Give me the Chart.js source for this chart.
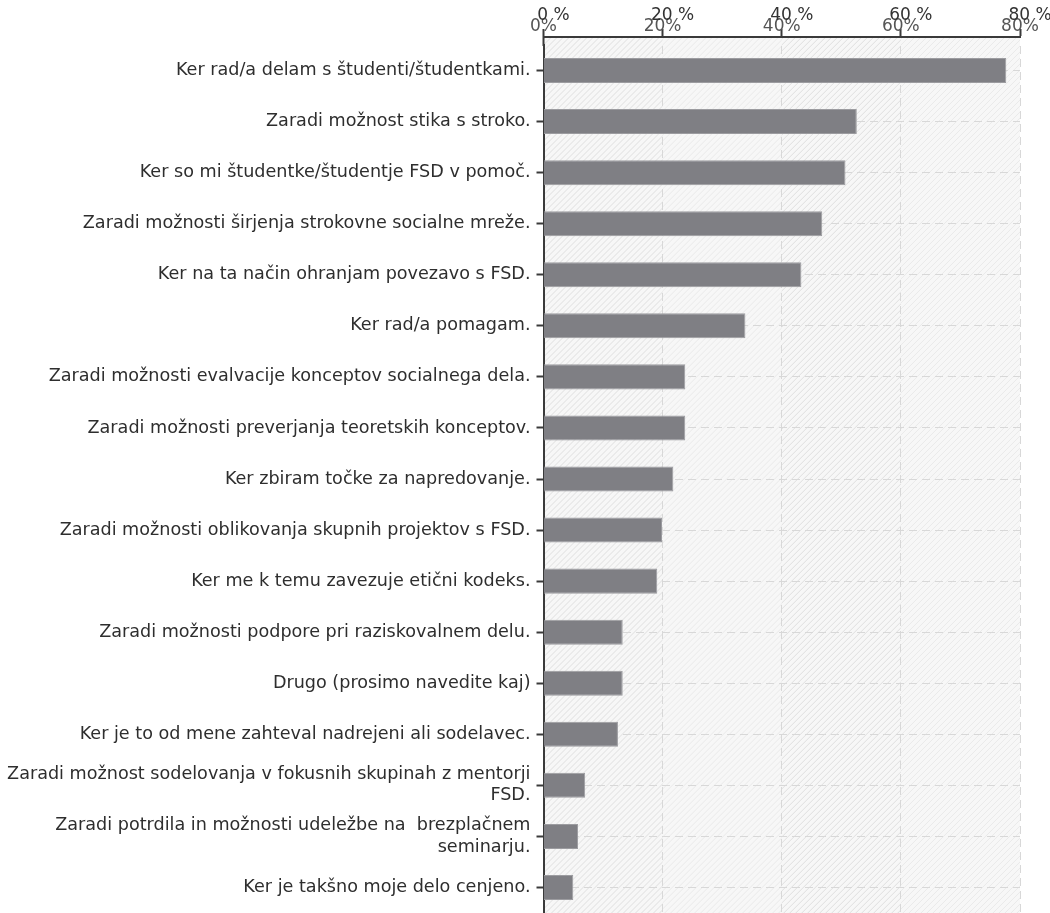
<!DOCTYPE html>
<html>
<head>
<meta charset="utf-8">
<script src="https://cdn.jsdelivr.net/npm/chart.js@4.4.1/dist/chart.umd.min.js"></script>
<style>
  html, body { margin: 0; padding: 0; background: #fff; overflow: hidden; }
  #wrap { position: relative; width: 1050px; height: 913px; }
</style>
</head>
<body>
<div id="wrap"><canvas id="bar-chart"></canvas></div>
<script>
var categories = [
    "Ker rad/a delam s študenti/študentkami.",
    "Zaradi možnost stika s stroko.",
    "Ker so mi študentke/študentje FSD v pomoč.",
    "Zaradi možnosti širjenja strokovne socialne mreže.",
    "Ker na ta način ohranjam povezavo s FSD.",
    "Ker rad/a pomagam.",
    "Zaradi možnosti evalvacije konceptov socialnega dela.",
    "Zaradi možnosti preverjanja teoretskih konceptov.",
    "Ker zbiram točke za napredovanje.",
    "Zaradi možnosti oblikovanja skupnih projektov s FSD.",
    "Ker me k temu zavezuje etični kodeks.",
    "Zaradi možnosti podpore pri raziskovalnem delu.",
    "Drugo (prosimo navedite kaj)",
    "Ker je to od mene zahteval nadrejeni ali sodelavec.",
    ["Zaradi možnost sodelovanja v fokusnih skupinah z mentorji", "FSD."],
    ["Zaradi potrdila in možnosti udeležbe na  brezplačnem", "seminarju."],
    "Ker je takšno moje delo cenjeno."
];
var shares = [77.7, 52.6, 50.7, 46.8, 43.3, 33.9, 23.8, 23.8, 21.8, 19.9, 19.1, 13.3, 13.3, 12.5, 7.0, 5.8, 5.0];
var xTicks = [0, 20, 40, 60, 80];

var FONT = "'DejaVu Sans', Verdana, sans-serif";
var AXIS_TOP = 37;
var PLOT_LEFT = 543.5;

// hatched plot background + the second (offset) set of top labels
var backdrop = {
    id: 'backdrop',
    beforeDraw: function (chart) {
        var ca = chart.chartArea, ctx = chart.ctx, x = chart.scales.x;
        var top = AXIS_TOP;
        ctx.save();
        ctx.fillStyle = '#f7f7f7';
        ctx.fillRect(ca.left, top, ca.right - ca.left, ca.bottom - top);
        for (var i = 0; i < xTicks.length - 1; i++) {
            var l = x.getPixelForValue(xTicks[i]), r = x.getPixelForValue(xTicks[i + 1]);
            ctx.save();
            ctx.beginPath();
            ctx.rect(l, top, r - l, ca.bottom - top);
            ctx.clip();
            ctx.strokeStyle = i % 2 === 0 ? '#dedede' : '#e9e9e9';
            ctx.lineWidth = 1;
            ctx.beginPath();
            for (var d = -1000; d < 1000; d += 6) {
                ctx.moveTo(l + d, ca.bottom);
                ctx.lineTo(l + d + (ca.bottom - top), top);
            }
            ctx.stroke();
            ctx.restore();
        }
        ctx.restore();
    },
    afterDraw: function (chart) {
        var ca = chart.chartArea, ctx = chart.ctx, x = chart.scales.x;
        ctx.save();
        ctx.strokeStyle = '#3a3a3a';
        ctx.lineWidth = 2;
        ctx.beginPath();
        ctx.moveTo(ca.left, AXIS_TOP - 1);
        ctx.lineTo(ca.left, ca.top + 1);
        ctx.stroke();
        ctx.fillStyle = '#333';
        ctx.font = '17px ' + FONT;
        ctx.textAlign = 'center';
        ctx.textBaseline = 'middle';
        xTicks.forEach(function (v) {
            ctx.fillText(v + ' %', x.getPixelForValue(v) + 10, 16);
        });
        ctx.restore();
    }
};

var ctx = document.getElementById('bar-chart');
var chart = new Chart(ctx, {
    type: 'bar',
    data: {
        labels: categories,
        datasets: [{
            label: 'Delež',
            data: shares,
            backgroundColor: '#7f7f84',
            borderColor: '#9c9ca0',
            borderWidth: 1,
            barPercentage: 0.49,
            categoryPercentage: 1
        }]
    },
    options: {
        indexAxis: 'y',
        responsive: true,
        maintainAspectRatio: false,
        animation: false,
        layout: { padding: { top: 0, left: 0, right: 30, bottom: 0 } },
        plugins: {
            legend: { display: false },
            tooltip: { enabled: false }
        },
        scales: {
            x: {
                position: 'top',
                weight: 1,
                min: 0,
                max: 80,
                afterFit: function (s) { s.height = AXIS_TOP; },
                afterBuildTicks: function (s) {
                    s.ticks = xTicks.map(function (v) { return { value: v }; });
                },
                ticks: {
                    padding: -8,
                    color: '#555',
                    font: { family: FONT, size: 17 },
                    callback: function (v) { return v + '%'; }
                },
                grid: {
                    color: '#d8d8d8',
                    lineWidth: 1,
                    tickColor: '#3a3a3a',
                    tickLength: 8,
                    tickWidth: 2,
                    tickBorderDash: []
                },
                border: { display: true, color: '#3a3a3a', width: 2, dash: [8, 5] }
            },
            xPad: {
                type: 'linear',
                position: 'top',
                weight: 0,
                display: true,
                afterFit: function (s) { s.height = 8; },
                grid: { display: false, drawTicks: false },
                border: { display: false },
                ticks: { display: false }
            },
            y: {
                afterFit: function (s) {
                    s.width = PLOT_LEFT;
                    s.paddingTop = 0;
                    s.paddingBottom = 0;
                },
                ticks: {
                    padding: 6,
                    color: '#2e2e2e',
                    font: { family: FONT, size: 17.6, lineHeight: 1.2 }
                },
                grid: {
                    offset: false,
                    color: '#d8d8d8',
                    lineWidth: 1,
                    tickColor: '#3a3a3a',
                    tickLength: 7,
                    tickWidth: 2,
                    tickBorderDash: []
                },
                border: { display: true, color: '#3a3a3a', width: 2, dash: [8, 5] }
            }
        }
    },
    plugins: [backdrop]
});
</script>
</body>
</html>
